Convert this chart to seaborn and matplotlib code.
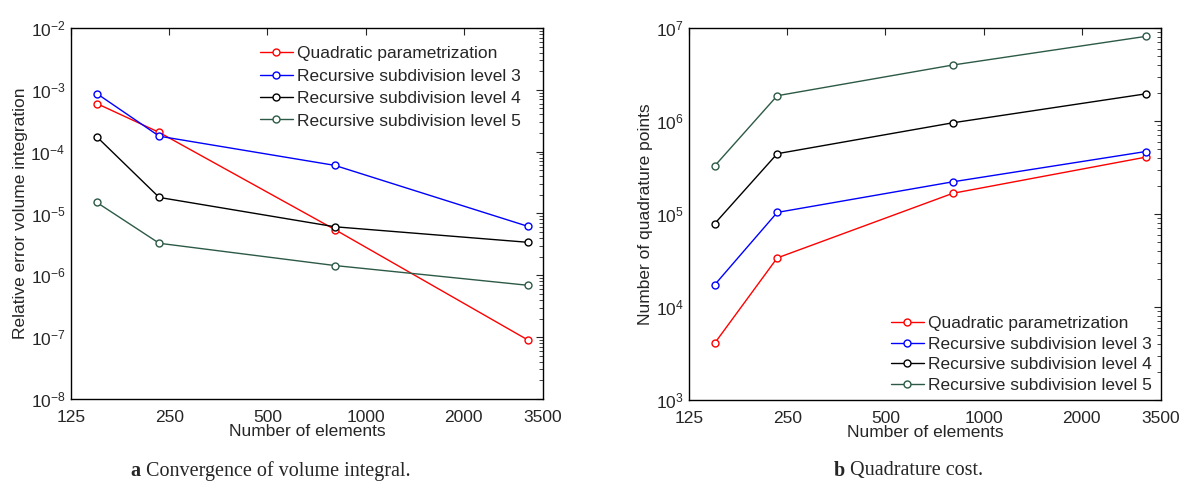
import pandas as pd
import matplotlib.pyplot as plt
import seaborn as sns
from matplotlib.ticker import FixedLocator, NullLocator, FixedFormatter

# --- Data ---
ELEMENTS = [150, 233, 805, 3145]

SERIES_NAMES = [
    'Quadratic parametrization',
    'Recursive subdivision level 3',
    'Recursive subdivision level 4',
    'Recursive subdivision level 5',
]

# panel a: relative error of the volume integral
ERR_QUADRATIC = [6.0e-4, 2.05e-4, 5.5e-6, 9.0e-8]
ERR_LEVEL3 = [8.7e-4, 1.78e-4, 6.0e-5, 6.2e-6]
ERR_LEVEL4 = [1.74e-4, 1.82e-5, 6.1e-6, 3.42e-6]
ERR_LEVEL5 = [1.51e-5, 3.3e-6, 1.44e-6, 6.9e-7]

# panel b: number of quadrature points
PTS_QUADRATIC = [4.1e3, 3.37e4, 1.67e5, 4.09e5]
PTS_LEVEL3 = [1.74e4, 1.04e5, 2.22e5, 4.7e5]
PTS_LEVEL4 = [7.9e4, 4.45e5, 9.57e5, 1.96e6]
PTS_LEVEL5 = [3.3e5, 1.87e6, 4.0e6, 8.13e6]

X_TICKS = [125, 250, 500, 1000, 2000, 3500]
COLORS = ['#ff0000', '#0000ff', '#000000', '#2d5a46']


def long_table(series):
    rows = []
    for name, values in zip(SERIES_NAMES, series):
        for x, y in zip(ELEMENTS, values):
            rows.append({'Elements': x, 'Value': y, 'Series': name})
    return pd.DataFrame(rows)


def draw_panel(ax, df, ylabel, ylim, legend_loc, legend_anchor, spacing):
    for name, color in zip(SERIES_NAMES, COLORS):
        sub = df[df['Series'] == name]
        sns.lineplot(data=sub, x='Elements', y='Value', ax=ax, color=color,
                     label=name, marker='o', markersize=6.5, markerfacecolor='white',
                     markeredgecolor=color, markeredgewidth=1.0, linewidth=1.0,
                     legend=False)
    ax.set_xscale('log')
    ax.set_yscale('log')
    ax.set_xlim(125, 3500)
    ax.set_ylim(*ylim)
    ax.xaxis.set_major_locator(FixedLocator(X_TICKS))
    ax.xaxis.set_major_formatter(FixedFormatter([str(t) for t in X_TICKS]))
    ax.xaxis.set_minor_locator(NullLocator())
    ax.tick_params(which='both', direction='in', top=True, right=True, labelsize=12.5)
    ax.tick_params(which='major', length=5, width=0.8)
    ax.tick_params(axis='x', which='major', pad=8)
    ax.tick_params(axis='y', which='major', pad=4)
    ax.tick_params(which='minor', length=3, width=0.6)
    ax.set_xlabel('Number of elements', fontsize=12.5, labelpad=-1)
    ax.set_ylabel(ylabel, fontsize=12.5, labelpad=2)
    for spine in ax.spines.values():
        spine.set_color('black')
        spine.set_linewidth(1.0)
    ax.grid(False)

    handles, labels = ax.get_legend_handles_labels()
    for h in handles:
        h.set_markersize(5)
    leg = ax.legend(handles, labels, loc=legend_loc, bbox_to_anchor=legend_anchor,
                    frameon=False, fontsize=12.5, handlelength=1.9,
                    handletextpad=0.25, labelspacing=spacing, borderaxespad=0.0)
    return leg


sns.set_theme(style='white')
plt.rcParams['font.family'] = ['Liberation Sans', 'DejaVu Sans']
plt.rcParams['mathtext.fontset'] = 'custom'
plt.rcParams['mathtext.rm'] = 'Liberation Sans'

fig = plt.figure(figsize=(11.81, 4.93), dpi=100)
ax_a = fig.add_axes([0.0601, 0.1907, 0.3997, 0.7525])
ax_b = fig.add_axes([0.5834, 0.1886, 0.3997, 0.7546])

draw_panel(ax_a, long_table([ERR_QUADRATIC, ERR_LEVEL3, ERR_LEVEL4, ERR_LEVEL5]),
           'Relative error volume integration', (1e-8, 1e-2), 'upper right',
           (0.968, 0.97), 0.42)
draw_panel(ax_b, long_table([PTS_QUADRATIC, PTS_LEVEL3, PTS_LEVEL4, PTS_LEVEL5]),
           'Number of quadrature points', (1e3, 1e7), 'lower right',
           (0.995, 0.0), 0.32)

serif = ['Liberation Serif', 'DejaVu Serif']
fig.text(0.110, 0.045, 'a', fontsize=14.5, family=serif, fontweight='bold',
         ha='left', va='center')
fig.text(0.124, 0.045, 'Convergence of volume integral.', fontsize=14.5, family=serif,
         ha='left', va='center')
fig.text(0.706, 0.045, 'b', fontsize=14.5, family=serif, fontweight='bold',
         ha='left', va='center')
fig.text(0.720, 0.045, 'Quadrature cost.', fontsize=14.5, family=serif,
         ha='left', va='center')

fig.savefig('out.png', dpi=100)
